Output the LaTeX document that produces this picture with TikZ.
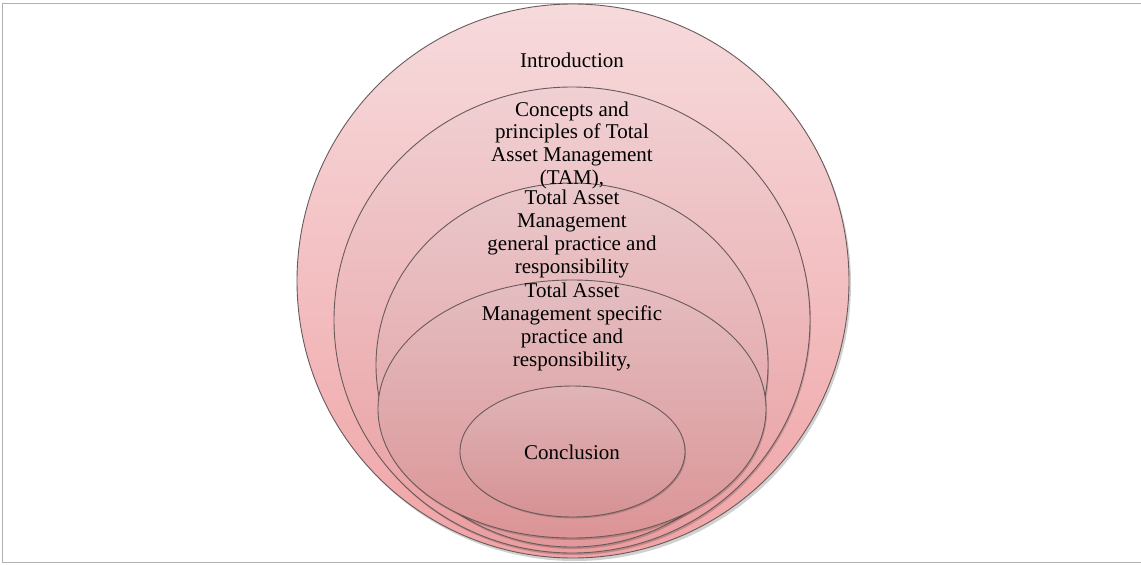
\documentclass[tikz,border=0pt]{standalone}
\usepackage{fontspec}
\setmainfont{Liberation Serif}
\usetikzlibrary{shapes.geometric}
\definecolor{bordergray}{RGB}{176,176,176}
\definecolor{edgecol}{RGB}{105,90,92}
\tikzset{
  ring/.style={draw=edgecol, line width=0.9pt},
  shadowring/.style={fill=black, opacity=0.18},
  lbl/.style={align=center, font=\fontsize{21}{22.7}\selectfont, text=black, inner sep=0pt}
}
\begin{document}
\begin{tikzpicture}[x=1pt,y=-1pt]
\useasboundingbox (0,0) rectangle (1141,565);
\fill[white] (0,0) rectangle (1141,565);
\draw[bordergray, line width=1.4pt] (1141,3.5) -- (2.5,3.5) -- (2.5,562.5) -- (1141,562.5);
% outer
\fill[shadowring] (575,284) ellipse [x radius=276pt, y radius=277pt];
\path[ring, top color={rgb,255:red,246;green,218;blue,220}, bottom color={rgb,255:red,240;green,164;blue,166}]
  (573,281) ellipse [x radius=276pt, y radius=277pt];
% second
\fill[shadowring] (573,322) ellipse [x radius=238pt, y radius=233pt];
\path[ring, top color={rgb,255:red,240;green,208;blue,211}, bottom color={rgb,255:red,234;green,158;blue,160}]
  (572,320) ellipse [x radius=238pt, y radius=233pt];
% third
\fill[shadowring] (573,367) ellipse [x radius=196pt, y radius=182pt];
\path[ring, top color={rgb,255:red,234;green,200;blue,203}, bottom color={rgb,255:red,226;green,152;blue,154}]
  (572,365) ellipse [x radius=196pt, y radius=182pt];
% fourth
\fill[shadowring] (573,411) ellipse [x radius=194pt, y radius=129pt];
\path[ring, top color={rgb,255:red,228;green,190;blue,193}, bottom color={rgb,255:red,220;green,148;blue,150}]
  (572,409) ellipse [x radius=194pt, y radius=129pt];
% inner
\fill[shadowring] (573.5,453) ellipse [x radius=112.5pt, y radius=65.5pt];
\path[ring, top color={rgb,255:red,224;green,180;blue,183}, bottom color={rgb,255:red,214;green,146;blue,148}]
  (572.5,451.5) ellipse [x radius=112.5pt, y radius=65.5pt];
% labels
\node[lbl] (intro) at (572,60) {Introduction};
\node[lbl] (concepts) at (572,145) {Concepts and\\principles of Total\\Asset Management\\(TAM),};
\node[lbl] (general) at (572,234) {Total Asset\\Management\\general practice and\\responsibility};
\node[lbl] (specific) at (572,327) {Total Asset\\Management specific\\practice and\\responsibility,};
\node[lbl] (concl) at (572,452) {Conclusion};
\end{tikzpicture}
\end{document}
